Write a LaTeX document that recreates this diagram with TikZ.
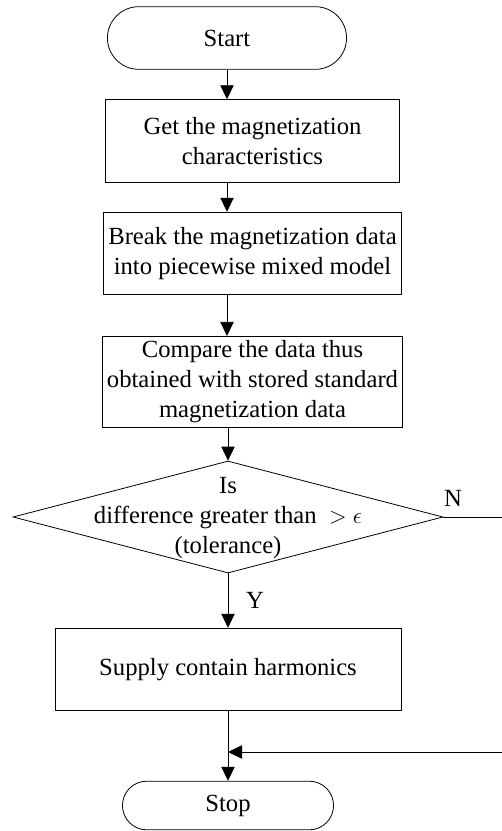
\documentclass[tikz,border=0pt]{standalone}
\usepackage{fontspec}
\setmainfont{Liberation Serif}
\usetikzlibrary{arrows.meta, shapes.geometric, shapes.misc}

\begin{document}
\begin{tikzpicture}[x=0.75pt, y=-0.75pt,
	flow/.style = {draw, line width=0.6pt, -{Triangle[length=10.5pt, width=10pt]}},
	term/.style = {draw, line width=0.6pt, rounded rectangle, minimum width=186pt, minimum height=47pt},
	procbox/.style = {draw, line width=0.6pt, rectangle, align=center, minimum height=62pt},
	decision/.style = {draw, line width=0.6pt, diamond, inner sep=0pt, minimum width=322.5pt, minimum height=84pt},
	every node/.style = {font=\fontsize{18.5}{22.5}\selectfont}]

\useasboundingbox (0, 0) rectangle (502, 831);

\node[term] (start) at (227, 38) {Start};
\node[procbox, minimum width=221pt] (get) at (252.5, 141) {Get the magnetization\\characteristics};
\node[procbox, minimum width=221pt] (brk) at (252.5, 253.5) {Break the magnetization data\\into piecewise mixed model};
\node[procbox, minimum width=221pt, minimum height=67.5pt] (cmp) at (252.5, 382)
	{Compare the data thus\\obtained with stored standard\\magnetization data};
\node[decision] (dec) at (228, 517) {};
\node[align=center] (dectext) at (228, 518) {Is\\difference greater than \ $>\epsilon$\\(tolerance)};
\node[procbox, minimum width=259.5pt] (sup) at (228, 669.5) {Supply contain harmonics};
\node[term, minimum width=165pt, minimum height=36.5pt] (stop) at (228, 805.5) {Stop};

\coordinate (noexit) at (502, 517);
\coordinate (noback) at (502, 752);

\draw[flow] (start.south) -- (start.south |- get.north);
\draw[flow] (get.south -| start) -- (brk.north -| start);
\draw[flow] (brk.south -| start) -- (cmp.north -| start);
\draw[flow] (cmp.south -| dec) -- (dec.north);
\draw[flow] (dec.south) -- node[right=10pt] {Y} (sup.north);
\draw[flow] (sup.south) -- (stop.north);
\draw[line width=0.6pt] (dec.east) -- (noexit);
\node (nlabel) at (453, 498) {N};
\draw[flow] (noback) -- (noback -| stop.north);

\end{tikzpicture}
\end{document}
